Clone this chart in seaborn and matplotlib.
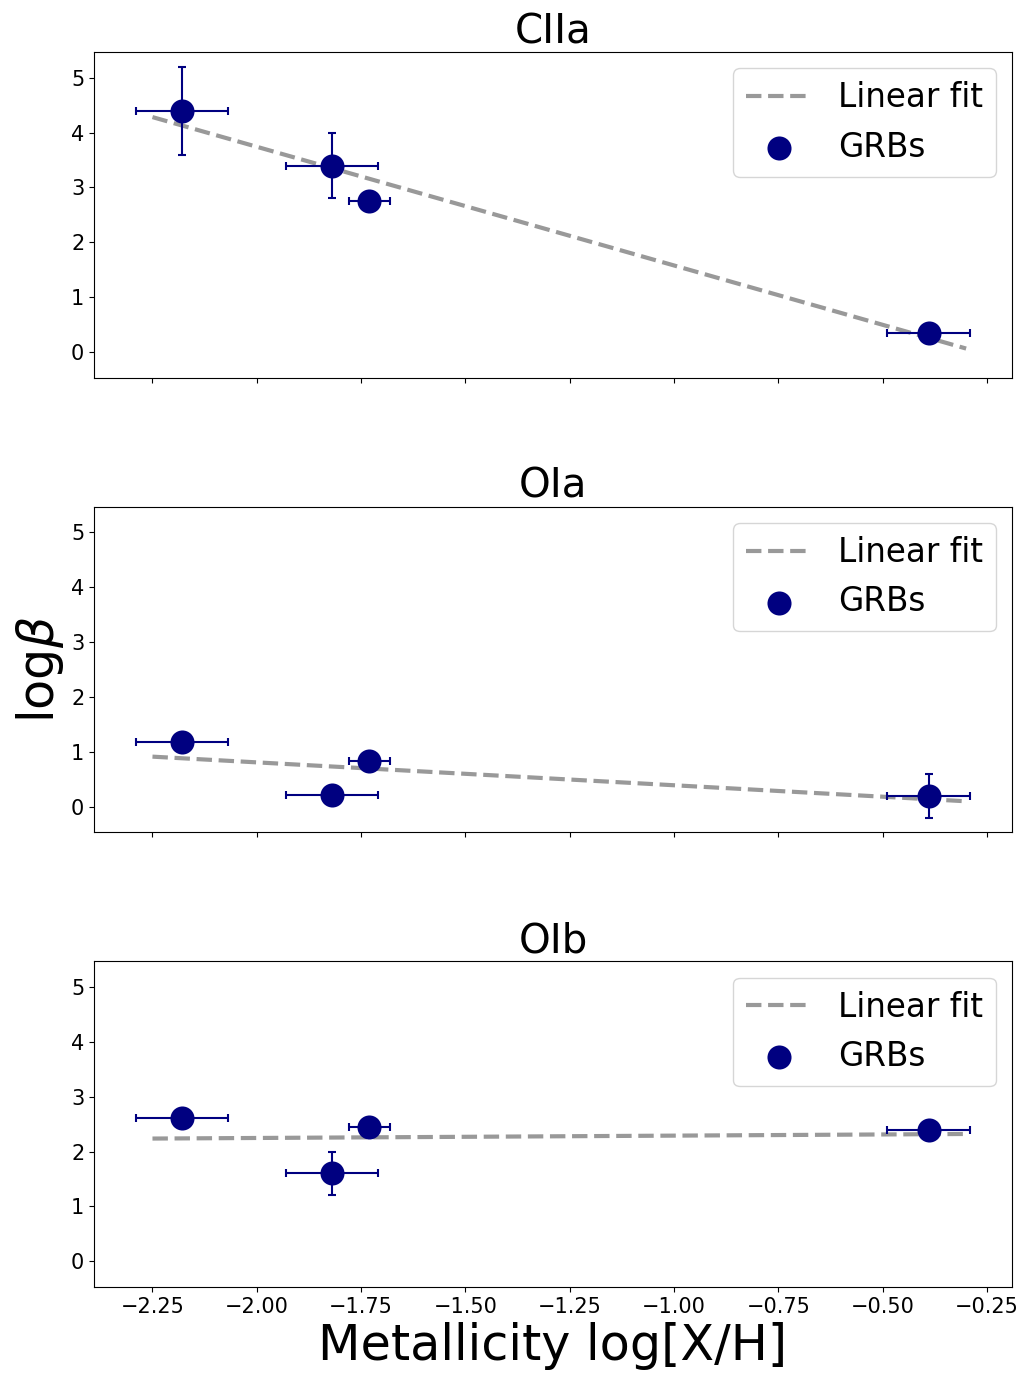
import numpy as np
import matplotlib
matplotlib.use("Agg")
import matplotlib.pyplot as plt
import seaborn as sns

# ---- data ----
panels = ["CIIa", "OIa", "OIb"]
metallicity = [-2.18, -1.82, -1.73, -0.39]
metallicity_err = [0.11, 0.11, 0.05, 0.10]
log_beta_CIIa = [4.40, 3.40, 2.75, 0.35]
log_beta_CIIa_err = [0.80, 0.60, 0.0, 0.0]
log_beta_OIa = [1.18, 0.22, 0.84, 0.20]
log_beta_OIa_err = [0.0, 0.0, 0.0, 0.40]
log_beta_OIb = [2.62, 1.60, 2.45, 2.40]
log_beta_OIb_err = [0.0, 0.40, 0.0, 0.0]
fit_range = [-2.25, -0.30]

values = [log_beta_CIIa, log_beta_OIa, log_beta_OIb]
errors = [log_beta_CIIa_err, log_beta_OIa_err, log_beta_OIb_err]
xticks = [-2.25, -2.00, -1.75, -1.50, -1.25, -1.00, -0.75, -0.50, -0.25]

fig, axes = plt.subplots(3, 1, figsize=(10.29, 13.81), dpi=100, sharex=True, sharey=True)
fig.subplots_adjust(left=0.0914, right=0.9835, top=0.9623, bottom=0.0681, hspace=0.396)

for ax, name, y, yerr in zip(axes, panels, values, errors):
    slope, intercept = np.polyfit(metallicity, y, 1)
    fx = np.array(fit_range)
    fy = slope * fx + intercept
    sns.lineplot(x=fx, y=fy, ax=ax, color="#999999", linestyle="--", linewidth=3,
                 label="Linear fit", zorder=1)
    ax.errorbar(metallicity, y, xerr=metallicity_err, yerr=yerr, fmt="none",
                ecolor="navy", elinewidth=1.5, capsize=3, capthick=1.5, zorder=2)
    sns.scatterplot(x=metallicity, y=y, ax=ax, color="navy", s=300, linewidth=0,
                    label="GRBs", zorder=3)
    ax.set_title(name, fontsize=29)
    ax.tick_params(labelsize=15)
    ax.legend(loc="upper right", fontsize=23.5)
    ax.set_xticks(xticks)

axes[1].set_ylabel(r"log$\beta$", fontsize=35.5)
axes[2].set_xlabel("Metallicity log[X/H]", fontsize=35.5)

fig.savefig("out.png", dpi=100)
